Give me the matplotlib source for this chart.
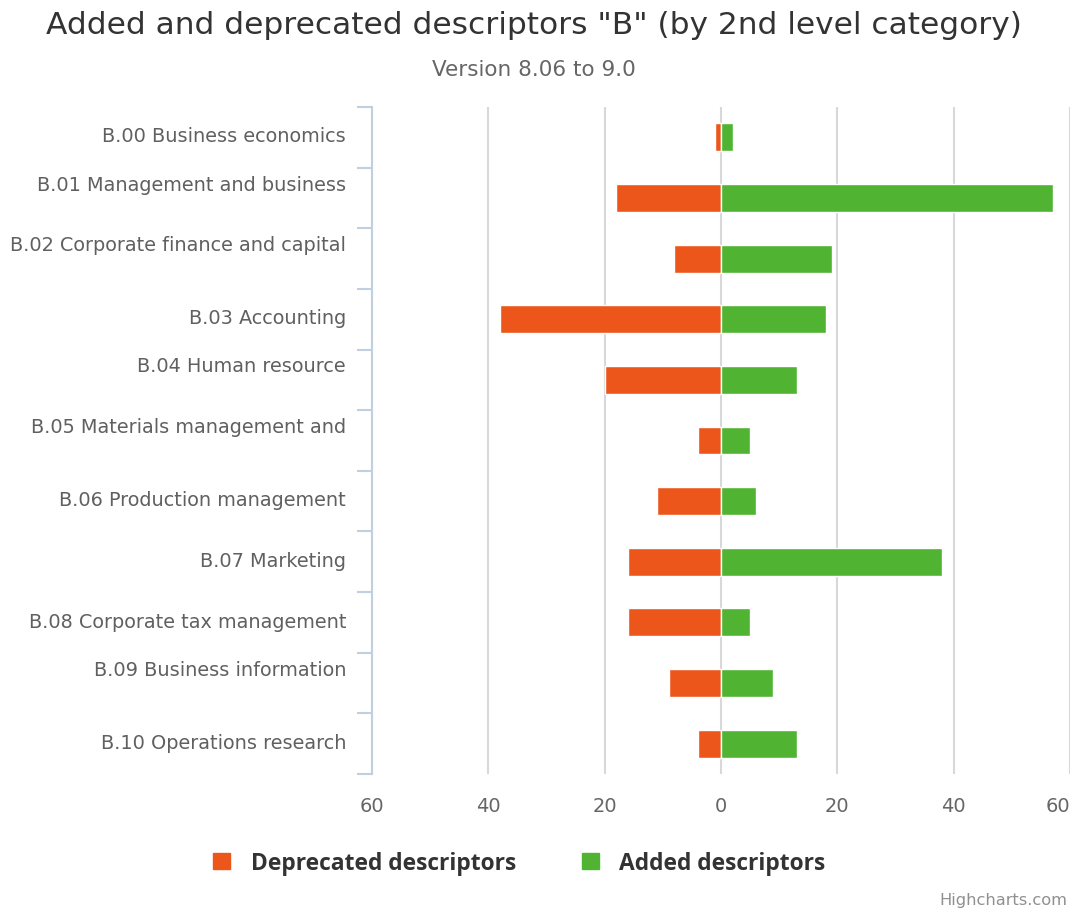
import numpy as np
import matplotlib
matplotlib.use("Agg")
import matplotlib.pyplot as plt
import matplotlib.transforms as mtransforms
from matplotlib.patches import Patch

plt.rcParams["font.family"] = ["DejaVu Sans"]

categories = [
    "B.00 Business economics",
    "B.01 Management and business",
    "B.02 Corporate finance and capital",
    "B.03 Accounting",
    "B.04 Human resource",
    "B.05 Materials management and",
    "B.06 Production management",
    "B.07 Marketing",
    "B.08 Corporate tax management",
    "B.09 Business information",
    "B.10 Operations research",
]
deprecated = [1, 18, 8, 38, 20, 4, 11, 16, 16, 9, 4]
added = [2, 57, 19, 18, 13, 5, 6, 38, 5, 9, 13]
xticks = [-60, -40, -20, 0, 20, 40, 60]

# labels that wrap onto a second (hidden) line in the original
wrapped = {1, 2, 4, 5, 9}

ORANGE = "#ED561B"
GREEN = "#50B432"
AXIS = "#C0D0E0"

fig = plt.figure(figsize=(10.73, 9.12), dpi=100)
ax = fig.add_axes([0.3467, 0.1502, 0.9972 - 0.3467, 0.8816 - 0.1502])

y = np.arange(len(categories))
ax.barh(y, -np.array(deprecated), height=0.46, color=ORANGE, edgecolor="white", linewidth=1, zorder=3)
ax.barh(y, added, height=0.46, color=GREEN, edgecolor="white", linewidth=1, zorder=3)

ax.set_xlim(-60, 60)
ax.set_ylim(len(categories) - 0.5, -0.5)

ax.set_xticks(xticks)
ax.set_xticklabels([str(abs(v)) for v in xticks], fontsize=14, color="#666666")
ax.tick_params(axis="x", length=0, pad=16)
ax.get_xticklabels()[-1].set_horizontalalignment("right")
ax.grid(axis="x", color="#D8D8D8", linewidth=1.5, zorder=0)

ax.set_yticks([])
ax.set_yticks(np.arange(len(categories) + 1) - 0.5, minor=True)
ax.tick_params(axis="y", which="minor", length=11, width=1.5, color=AXIS, labelleft=False)

for s in ["top", "right", "bottom"]:
    ax.spines[s].set_visible(False)
ax.spines["left"].set_color(AXIS)
ax.spines["left"].set_linewidth(1.5)

trans = mtransforms.blended_transform_factory(ax.transAxes, ax.transData)
for i, lab in enumerate(categories):
    dy = 10 / 72 if i in wrapped else 1 / 72
    t = trans + mtransforms.ScaledTranslation(-26 / 100, dy, fig.dpi_scale_trans)
    ax.text(0, i, lab, transform=t, ha="right", va="center", fontsize=13.9, color="#606060")

fig.text(0.498, 1 - 25 / 912, 'Added and deprecated descriptors "B" (by 2nd level category)',
         ha="center", va="center", fontsize=22.5, color="#333333")
fig.text(0.498, 1 - 70 / 912, "Version 8.06 to 9.0", ha="center", va="center",
         fontsize=15.5, color="#666666")

handles = [Patch(facecolor=ORANGE, edgecolor=ORANGE, label="Deprecated descriptors"),
           Patch(facecolor=GREEN, edgecolor=GREEN, label="Added descriptors")]
fig.legend(handles=handles, loc="center", bbox_to_anchor=(0.484, 1 - 864 / 912), ncol=2,
           frameon=False, handlelength=0.75, handleheight=0.75, handletextpad=0.9,
           columnspacing=2.9, prop={"family": "Open Sans", "weight": "bold", "size": 16.4},
           labelcolor="#333333")

fig.text(0.995, 1 - 901 / 912, "Highcharts.com", ha="right", va="center", fontsize=11.7, color="#909090")

fig.savefig("out.png", dpi=100)
